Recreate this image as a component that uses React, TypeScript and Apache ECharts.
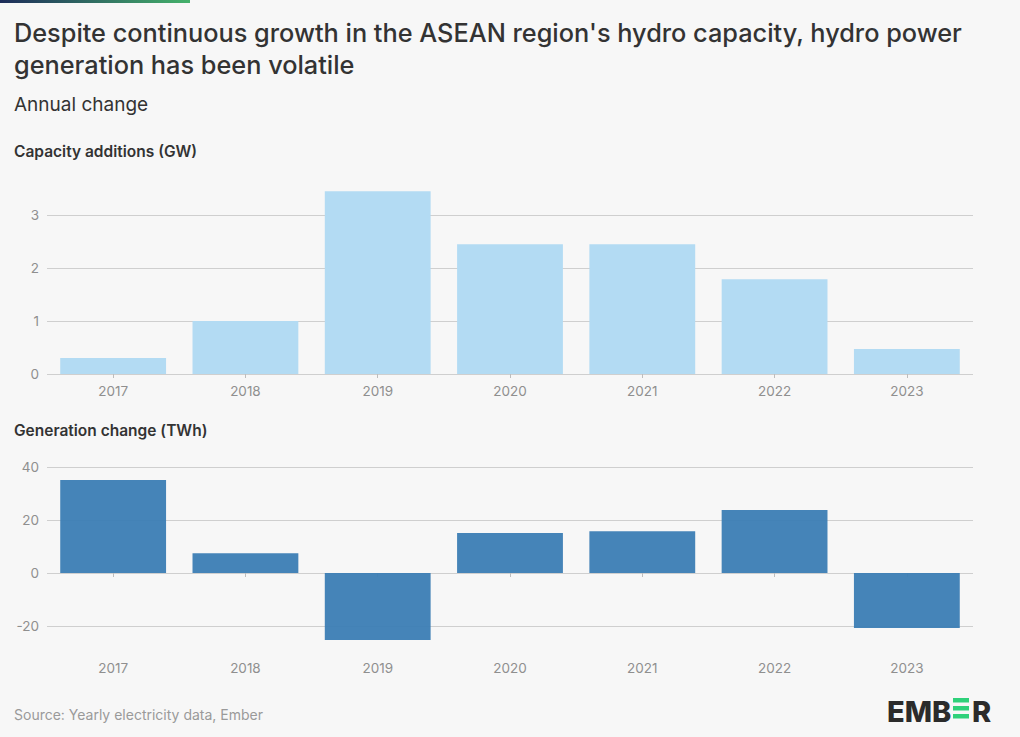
import React, { useEffect, useRef } from "react";
import * as echarts from "echarts";

const years = ["2017", "2018", "2019", "2020", "2021", "2022", "2023"];
const capacityAdditionsGW = [0.3, 1.0, 3.45, 2.45, 2.45, 1.79, 0.47];
const generationChangeTWh = [35.1, 7.5, -25.3, 15.1, 15.8, 23.8, -20.8];
const capacityTicks = [0, 1, 2, 3];
const generationTicks = [-20, 0, 20, 40];

const FONT = "Inter, 'Noto Sans', sans-serif";
const LABEL_COLOR = "#8f8f8f";
const GRID_COLOR = "#cfcfcf";

export default function App() {
  const ref = useRef<HTMLDivElement>(null);
  useEffect(() => {
    document.body.style.margin = "0";
    const chart = echarts.init(ref.current!, null, { renderer: "svg" });
    const xAxisBase = (gridIndex: number, offset: number) => ({
      type: "category",
      gridIndex,
      data: years,
      offset,
      axisLine: { show: false },
      axisTick: { show: true, alignWithLabel: true, length: 4, lineStyle: { color: "#bdbdbd" } },
      axisLabel: { color: LABEL_COLOR, fontSize: 13.5, fontFamily: FONT, margin: 10 },
      splitLine: { show: false },
    });
    const yAxisBase = (gridIndex: number, min: number, max: number, interval: number) => ({
      type: "value",
      gridIndex,
      min,
      max,
      interval,
      axisLine: { show: false },
      axisTick: { show: false },
      axisLabel: { color: LABEL_COLOR, fontSize: 13.5, fontFamily: FONT, margin: 8 },
      splitLine: { show: true, lineStyle: { color: GRID_COLOR, width: 1 } },
    });
    chart.setOption({
      animation: false,
      backgroundColor: "#f7f7f7",
      textStyle: { fontFamily: FONT },
      grid: [
        { left: 47, right: 47, top: 215, bottom: 737 - 374 },
        { left: 47, right: 47, top: 467, bottom: 737 - 626 },
      ],
      xAxis: [xAxisBase(0, 0), xAxisBase(1, 25)],
      yAxis: [
        yAxisBase(0, capacityTicks[0], capacityTicks[capacityTicks.length - 1], 1),
        yAxisBase(1, generationTicks[0], generationTicks[generationTicks.length - 1], 20),
      ],
      series: [
        {
          type: "bar",
          xAxisIndex: 0,
          yAxisIndex: 0,
          data: capacityAdditionsGW,
          barWidth: "80%",
          clip: false,
          itemStyle: { color: "#b3dbf3" },
        },
        {
          type: "bar",
          xAxisIndex: 1,
          yAxisIndex: 1,
          data: generationChangeTWh,
          barWidth: "80%",
          clip: false,
          itemStyle: { color: "#3b7db4", opacity: 0.95 },
        },
      ],
      graphic: [
        {
          type: "rect",
          shape: { x: 0, y: 0, width: 190, height: 3 },
          style: {
            fill: new echarts.graphic.LinearGradient(0, 0, 1, 0, [
              { offset: 0, color: "#1d2c5a" },
              { offset: 1, color: "#45b26b" },
            ]),
          },
        },
        {
          type: "text",
          x: 14,
          y: 16,
          style: {
            text: "Despite continuous growth in the ASEAN region's hydro capacity, hydro power\ngeneration has been volatile",
            fill: "#333333",
            font: `500 25.3px ${FONT}`,
            lineHeight: 32,
          },
        },
        {
          type: "text",
          x: 14,
          y: 95,
          style: { text: "Annual change", fill: "#333333", font: `400 19px ${FONT}` },
        },
        {
          type: "text",
          x: 14,
          y: 143,
          style: { text: "Capacity additions (GW)", fill: "#333333", font: `600 15.5px ${FONT}` },
        },
        {
          type: "text",
          x: 14,
          y: 422,
          style: { text: "Generation change (TWh)", fill: "#333333", font: `600 15.5px ${FONT}` },
        },
        {
          type: "text",
          x: 14,
          y: 707,
          style: { text: "Source: Yearly electricity data, Ember", fill: "#9a9a9a", font: `400 14px ${FONT}` },
        },
        {
          type: "group",
          x: 887,
          y: 697,
          children: [
            {
              type: "text",
              x: 0,
              y: 0,
              style: { text: "EMB", fill: "#2b2b2b", font: `800 29px ${FONT}`, textVerticalAlign: "top" },
            },
            { type: "rect", shape: { x: 66, y: 1, width: 16, height: 4.5 }, style: { fill: "#2fd17a" } },
            { type: "rect", shape: { x: 66, y: 9, width: 16, height: 4.5 }, style: { fill: "#2fd17a" } },
            { type: "rect", shape: { x: 66, y: 17, width: 16, height: 4.5 }, style: { fill: "#2fd17a" } },
            {
              type: "text",
              x: 85,
              y: 0,
              style: { text: "R", fill: "#2b2b2b", font: `800 29px ${FONT}`, textVerticalAlign: "top" },
            },
          ],
        },
      ],
    });
    return () => chart.dispose();
  }, []);
  return <div ref={ref} style={{ width: 1020, height: 737 }} />;
}
